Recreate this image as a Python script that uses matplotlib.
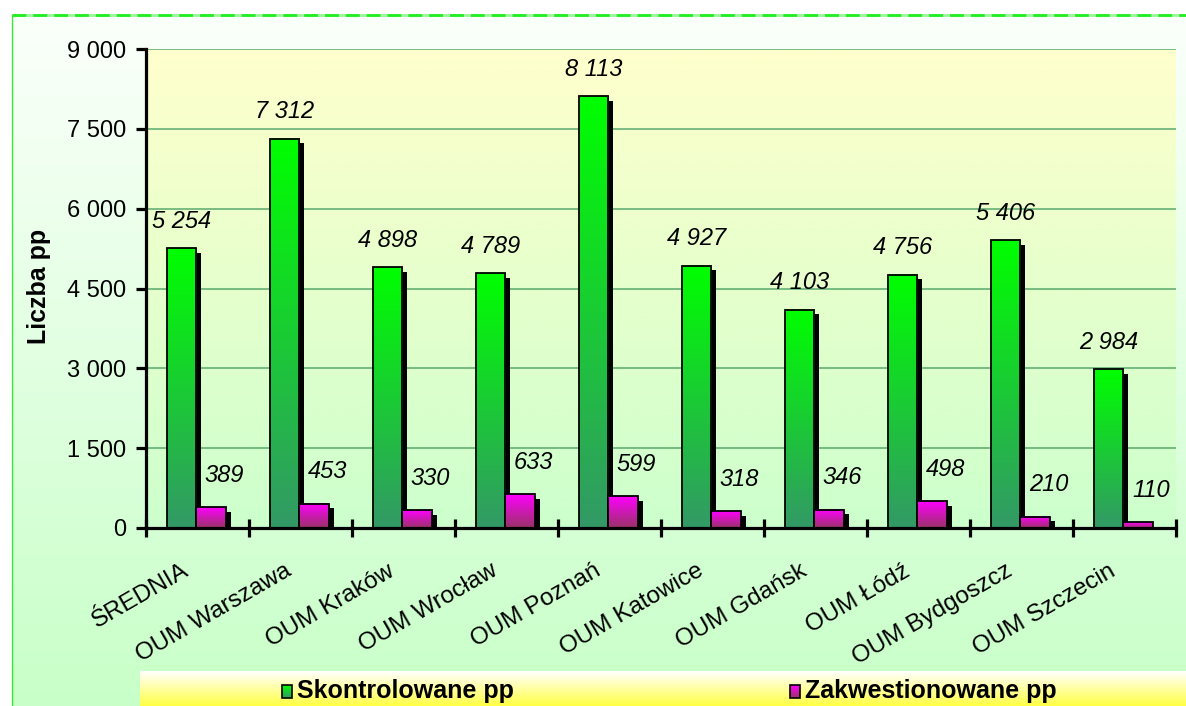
import numpy as np
import matplotlib
matplotlib.use("Agg")
import matplotlib.pyplot as plt
from matplotlib.transforms import ScaledTranslation
from matplotlib.patches import Rectangle

# ---------------- data ----------------
categories = ["ŚREDNIA", "OUM Warszawa", "OUM Kraków", "OUM Wrocław", "OUM Poznań",
              "OUM Katowice", "OUM Gdańsk", "OUM Łódź", "OUM Bydgoszcz", "OUM Szczecin"]
skontrolowane = [5254, 7312, 4898, 4789, 8113, 4927, 4103, 4756, 5406, 2984]
zakwestionowane = [389, 453, 330, 633, 599, 318, 346, 498, 210, 110]
series_names = ["Skontrolowane pp", "Zakwestionowane pp"]
y_ticks = [0, 1500, 3000, 4500, 6000, 7500, 9000]
y_tick_labels = ["0", "1 500", "3 000", "4 500", "6 000", "7 500", "9 000"]
y_label = "Liczba pp"

plt.rcParams['font.family'] = ['Liberation Sans', 'DejaVu Sans']

W, H = 1186, 706
DPI = 100
fig = plt.figure(figsize=(W / DPI, H / DPI), dpi=DPI)
fig.patch.set_facecolor("white")


def vgrad(top, bottom, n=256):
    top = np.array(matplotlib.colors.to_rgb(top))
    bottom = np.array(matplotlib.colors.to_rgb(bottom))
    t = np.linspace(0, 1, n)[:, None]
    g = top * (1 - t) + bottom * t
    return g[:, None, :]


# ---------------- figure background ----------------
bg = fig.add_axes([0, 0, 1, 1], zorder=-10)
bg.set_xlim(0, W)
bg.set_ylim(H, 0)
bg.axis("off")
bg.imshow(vgrad("#fbfffb", "#c8ffc8"), extent=(12, W, H, 15), aspect="auto",
          interpolation="bilinear", zorder=0)
bg.plot([12, W], [15, 15], color="#9cf59c", lw=2, zorder=2, solid_capstyle="butt")
bg.plot([12, W], [15, 15], color="#22ee22", lw=2, zorder=3, dashes=(5, 2.5))
bg.plot([12, 12], [15, H], color="#33ee33", lw=1, zorder=3)
bg.set_xlim(0, W)
bg.set_ylim(H, 0)

# ---------------- main axes ----------------
L, R, T, B = 146, 1176, 49, 528
ax = fig.add_axes([L / W, 1 - B / H, (R - L) / W, (B - T) / H])
ax.set_facecolor("none")
ax.imshow(vgrad("#ffffcc", "#ccffcc"), extent=(-0.5, len(categories) - 0.5, 0, 9000),
          aspect="auto", interpolation="bilinear", zorder=0)

x = np.arange(len(categories))
bw = 0.29
gx = x - 0.01 - bw / 2
mx = x - 0.01 + bw / 2

for yv in y_ticks[1:]:
    ax.axhline(yv, color="#5aaa6e", lw=1.1, zorder=1)

shadow = ax.transData + ScaledTranslation(5 / DPI, -4.5 / DPI, fig.dpi_scale_trans)
ax.bar(gx, skontrolowane, bw, color="black", transform=shadow, zorder=2, linewidth=0)
ax.bar(mx, zakwestionowane, bw, color="black", transform=shadow, zorder=2, linewidth=0)


def grad_bars(xs, vals, top, bottom):
    for xc, v in zip(xs, vals):
        ax.imshow(vgrad(top, bottom), extent=(xc - bw / 2, xc + bw / 2, 0, v),
                  aspect="auto", interpolation="bilinear", zorder=3)
    ax.bar(xs, vals, bw, facecolor="none", edgecolor="black", linewidth=1.3, zorder=4)


grad_bars(gx, skontrolowane, "#00ff00", "#339966")
grad_bars(mx, zakwestionowane, "#ff00ff", "#993366")

# data labels
for xc, v in zip(gx, skontrolowane):
    ax.annotate(f"{v:,}".replace(",", " "), (xc, v), xytext=(0, 27),
                textcoords="offset pixels", ha="center", va="center",
                fontsize=17, style="italic", zorder=6)
for xc, v in zip(mx, zakwestionowane):
    ax.annotate(f"{v:,}".replace(",", " "), (xc, v), xytext=(13, 32),
                textcoords="offset pixels", ha="center", va="center",
                fontsize=17, style="italic", zorder=6)

ax.set_xlim(-0.5, len(categories) - 0.5)
ax.set_ylim(0, 9000)

for s in ["top", "right"]:
    ax.spines[s].set_visible(False)
for s in ["left", "bottom"]:
    ax.spines[s].set_linewidth(2.3)
    ax.spines[s].set_zorder(7)

ax.set_yticks(y_ticks)
ax.set_yticklabels(y_tick_labels, fontsize=17)
ax.tick_params(axis="y", direction="out", length=7, width=2.3, pad=7)

ax.set_xticks(np.arange(len(categories) + 1) - 0.5)
ax.set_xticklabels([])
ax.tick_params(axis="x", which="major", direction="inout", length=13, width=2.3)
ax.set_xticks(x, minor=True)
ax.set_xticklabels(categories, minor=True, rotation=30, ha="right", va="top",
                   rotation_mode="anchor", fontsize=17.5)
ax.tick_params(axis="x", which="minor", length=0, pad=23)
off = ScaledTranslation(-16 / DPI, 0, fig.dpi_scale_trans)
for lab in ax.get_xticklabels(minor=True):
    lab.set_transform(lab.get_transform() + off)

ax.set_ylabel(y_label, fontsize=18, fontweight="bold")
ax.yaxis.set_label_coords(-0.092, 0.505)

# ---------------- legend box ----------------
lg = fig.add_axes([140 / W, 0, (W - 140) / W, 35 / H], zorder=5)
lg.imshow(vgrad("#ffffff", "#ffff44"), extent=(0, 1, 0, 1), aspect="auto",
          interpolation="bilinear")
lg.set_xlim(0, 1)
lg.set_ylim(0, 1)
lg.axis("off")

legend_items = [(282, "#00ff00", "#339966"), (790, "#ff00ff", "#993366")]
for (px, ctop, cbot), name in zip(legend_items, series_names):
    x0 = (px - 140) / (W - 140)
    x1 = (px + 10 - 140) / (W - 140)
    y0, y1 = 8 / 35, 21 / 35
    lg.imshow(vgrad(ctop, cbot), extent=(x0, x1, y0, y1), aspect="auto",
              interpolation="bilinear", zorder=2)
    lg.add_patch(Rectangle((x0, y0), x1 - x0, y1 - y0, fill=False, ec="black", lw=1.2, zorder=3))
    lg.text((px + 15 - 140) / (W - 140), 0.42, name, fontsize=18, fontweight="bold",
            ha="left", va="center", zorder=4)
lg.set_xlim(0, 1)
lg.set_ylim(0, 1)

fig.savefig("out.png", dpi=DPI)
